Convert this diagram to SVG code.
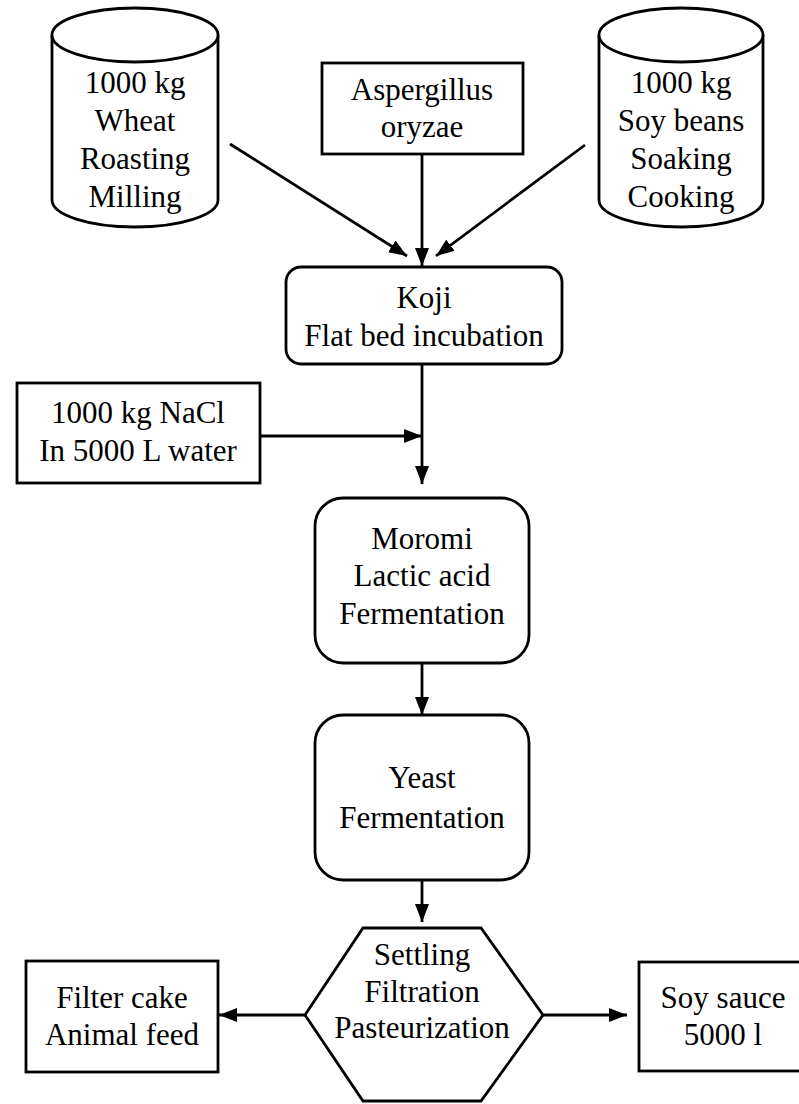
<svg xmlns="http://www.w3.org/2000/svg" width="799" height="1104" viewBox="0 0 799 1104">
<style>
.s{fill:#fff;stroke:#000;stroke-width:2.8}
.t{font-family:"Liberation Serif","Times New Roman",serif;font-size:31px;fill:#000;text-anchor:middle}
.c{stroke:#000;stroke-width:2.8;fill:none}
</style>
<defs>
<marker id="ah" viewBox="0 0 18 14" refX="18" refY="7" markerWidth="18" markerHeight="14" markerUnits="userSpaceOnUse" orient="auto">
<path d="M0,0 L18,7 L0,14 Z" fill="#000"/>
</marker>
</defs>
<rect width="799" height="1104" fill="#fff"/>
<g id="connectors">
<line class="c" x1="230" y1="144" x2="407" y2="256" marker-end="url(#ah)"/>
<line class="c" x1="422" y1="154" x2="422" y2="266" marker-end="url(#ah)"/>
<line class="c" x1="585" y1="145" x2="436" y2="256" marker-end="url(#ah)"/>
<line class="c" x1="422" y1="364" x2="422" y2="484" marker-end="url(#ah)"/>
<line class="c" x1="260" y1="436" x2="422" y2="436" marker-end="url(#ah)"/>
<line class="c" x1="422" y1="663" x2="422" y2="715" marker-end="url(#ah)"/>
<line class="c" x1="422" y1="880" x2="422" y2="922" marker-end="url(#ah)"/>
<line class="c" x1="305" y1="1015" x2="219" y2="1015" marker-end="url(#ah)"/>
<line class="c" x1="543" y1="1015" x2="627" y2="1015" marker-end="url(#ah)"/>
</g>
<g id="wheat">
<path class="s" d="M52,35 L52,200 A83,27 0 0 0 218,200 L218,35"/>
<ellipse class="s" cx="135" cy="35" rx="83" ry="27"/>
<text class="t" x="135" y="93">1000 kg</text>
<text class="t" x="135" y="131">Wheat</text>
<text class="t" x="135" y="169">Roasting</text>
<text class="t" x="135" y="207">Milling</text>
</g>
<g id="aspergillus">
<rect class="s" x="322" y="63" width="201" height="91"/>
<text class="t" x="422" y="100">Aspergillus</text>
<text class="t" x="422" y="137">oryzae</text>
</g>
<g id="soybeans">
<path class="s" d="M599,35 L599,200 A82,27 0 0 0 763,200 L763,35"/>
<ellipse class="s" cx="681" cy="35" rx="82" ry="27"/>
<text class="t" x="681" y="93">1000 kg</text>
<text class="t" x="681" y="131">Soy beans</text>
<text class="t" x="681" y="169">Soaking</text>
<text class="t" x="681" y="207">Cooking</text>
</g>
<g id="koji">
<rect class="s" x="286" y="267" width="276" height="97" rx="15"/>
<text class="t" x="424" y="308">Koji</text>
<text class="t" x="424" y="346">Flat bed incubation</text>
</g>
<g id="nacl">
<rect class="s" x="17" y="383" width="243" height="100"/>
<text class="t" x="138" y="423">1000 kg NaCl</text>
<text class="t" x="138" y="461">In 5000 L water</text>
</g>
<g id="moromi">
<rect class="s" x="315" y="498" width="214" height="165" rx="28"/>
<text class="t" x="422" y="549">Moromi</text>
<text class="t" x="422" y="586">Lactic acid</text>
<text class="t" x="422" y="624">Fermentation</text>
</g>
<g id="yeast">
<rect class="s" x="315" y="715" width="214" height="165" rx="28"/>
<text class="t" x="422" y="788">Yeast</text>
<text class="t" x="422" y="828">Fermentation</text>
</g>
<g id="settling">
<polygon class="s" points="363,928 481,928 543,1015 481,1101 363,1101 305,1015"/>
<text class="t" x="422" y="965">Settling</text>
<text class="t" x="422" y="1002">Filtration</text>
<text class="t" x="422" y="1038">Pasteurization</text>
</g>
<g id="filtercake">
<rect class="s" x="26" y="961" width="192" height="111"/>
<text class="t" x="122" y="1008">Filter cake</text>
<text class="t" x="122" y="1045">Animal feed</text>
</g>
<g id="soysauce">
<rect class="s" x="639" y="962" width="175" height="109"/>
<text class="t" x="723" y="1008">Soy sauce</text>
<text class="t" x="723" y="1045">5000 l</text>
</g>
</svg>
